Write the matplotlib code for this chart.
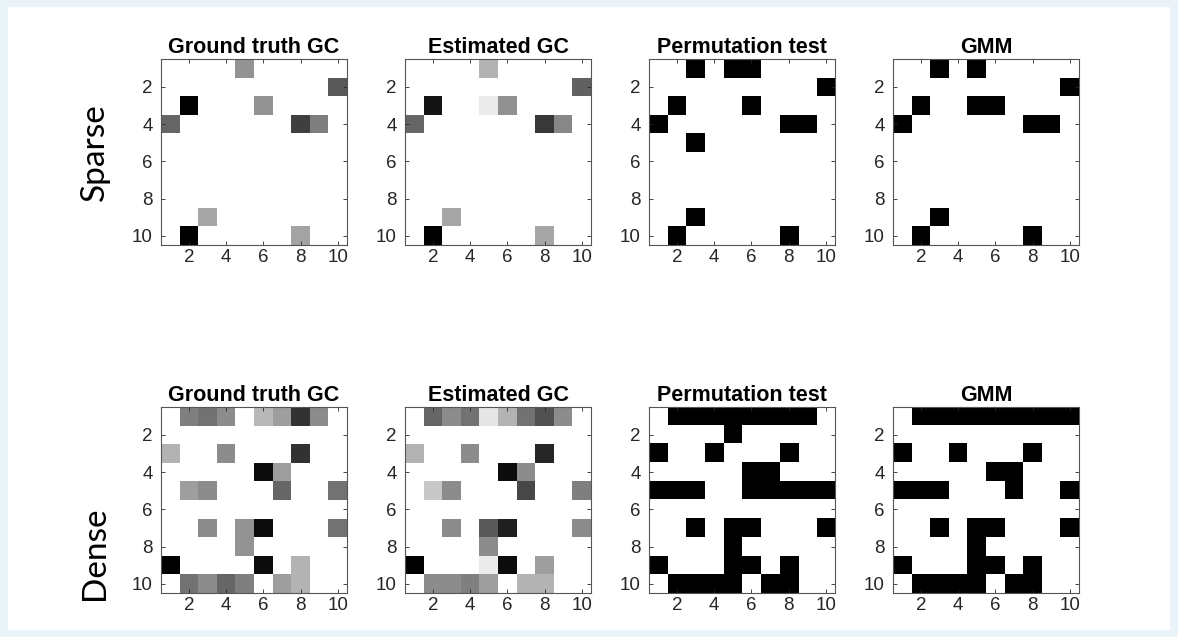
import numpy as np
import matplotlib.pyplot as plt
from matplotlib.patches import Rectangle

titles = ["Ground truth GC", "Estimated GC", "Permutation test", "GMM"]
row_labels = ["Sparse", "Dense"]
ticks = [2, 4, 6, 8, 10]

# values are darkness (0 = white, 1 = black)
sparse_truth = [
    [0, 0, 0, 0, .42, 0, 0, 0, 0, 0],
    [0, 0, 0, 0, 0, 0, 0, 0, 0, .65],
    [0, 1, 0, 0, 0, .42, 0, 0, 0, 0],
    [.6, 0, 0, 0, 0, 0, 0, .75, .5, 0],
    [0, 0, 0, 0, 0, 0, 0, 0, 0, 0],
    [0, 0, 0, 0, 0, 0, 0, 0, 0, 0],
    [0, 0, 0, 0, 0, 0, 0, 0, 0, 0],
    [0, 0, 0, 0, 0, 0, 0, 0, 0, 0],
    [0, 0, .35, 0, 0, 0, 0, 0, 0, 0],
    [0, 1, 0, 0, 0, 0, 0, .36, 0, 0],
]
sparse_est = [
    [0, 0, 0, 0, .3, 0, 0, 0, 0, 0],
    [0, 0, 0, 0, 0, 0, 0, 0, 0, .62],
    [0, .92, 0, 0, .08, .43, 0, 0, 0, 0],
    [.6, 0, 0, 0, 0, 0, 0, .78, .47, 0],
    [0, 0, 0, 0, 0, 0, 0, 0, 0, 0],
    [0, 0, 0, 0, 0, 0, 0, 0, 0, 0],
    [0, 0, 0, 0, 0, 0, 0, 0, 0, 0],
    [0, 0, 0, 0, 0, 0, 0, 0, 0, 0],
    [0, 0, .35, 0, 0, 0, 0, 0, 0, 0],
    [0, 1, 0, 0, 0, 0, 0, .35, 0, 0],
]
sparse_perm = [
    [0, 0, 1, 0, 1, 1, 0, 0, 0, 0],
    [0, 0, 0, 0, 0, 0, 0, 0, 0, 1],
    [0, 1, 0, 0, 0, 1, 0, 0, 0, 0],
    [1, 0, 0, 0, 0, 0, 0, 1, 1, 0],
    [0, 0, 1, 0, 0, 0, 0, 0, 0, 0],
    [0, 0, 0, 0, 0, 0, 0, 0, 0, 0],
    [0, 0, 0, 0, 0, 0, 0, 0, 0, 0],
    [0, 0, 0, 0, 0, 0, 0, 0, 0, 0],
    [0, 0, 1, 0, 0, 0, 0, 0, 0, 0],
    [0, 1, 0, 0, 0, 0, 0, 1, 0, 0],
]
sparse_gmm = [
    [0, 0, 1, 0, 1, 0, 0, 0, 0, 0],
    [0, 0, 0, 0, 0, 0, 0, 0, 0, 1],
    [0, 1, 0, 0, 1, 1, 0, 0, 0, 0],
    [1, 0, 0, 0, 0, 0, 0, 1, 1, 0],
    [0, 0, 0, 0, 0, 0, 0, 0, 0, 0],
    [0, 0, 0, 0, 0, 0, 0, 0, 0, 0],
    [0, 0, 0, 0, 0, 0, 0, 0, 0, 0],
    [0, 0, 0, 0, 0, 0, 0, 0, 0, 0],
    [0, 0, 1, 0, 0, 0, 0, 0, 0, 0],
    [0, 1, 0, 0, 0, 0, 0, 1, 0, 0],
]
dense_truth = [
    [0, .5, .55, .45, 0, .28, .38, .8, .45, 0],
    [0, 0, 0, 0, 0, 0, 0, 0, 0, 0],
    [.3, 0, 0, .45, 0, 0, 0, .8, 0, 0],
    [0, 0, 0, 0, 0, .95, .38, 0, 0, 0],
    [0, .38, .45, 0, 0, 0, .6, 0, 0, .55],
    [0, 0, 0, 0, 0, 0, 0, 0, 0, 0],
    [0, 0, .45, 0, .42, .95, 0, 0, 0, .55],
    [0, 0, 0, 0, .42, 0, 0, 0, 0, 0],
    [1, 0, 0, 0, 0, .95, 0, .3, 0, 0],
    [0, .55, .45, .6, .5, 0, .38, .3, 0, 0],
]
dense_est = [
    [0, .6, .45, .55, .1, .3, .55, .68, .45, 0],
    [0, 0, 0, 0, 0, 0, 0, 0, 0, 0],
    [.3, 0, 0, .45, 0, 0, 0, .85, 0, 0],
    [0, 0, 0, 0, 0, .95, .45, 0, 0, 0],
    [0, .22, .45, 0, 0, 0, .72, 0, 0, .5],
    [0, 0, 0, 0, 0, 0, 0, 0, 0, 0],
    [0, 0, .45, 0, .65, .88, 0, 0, 0, .45],
    [0, 0, 0, 0, .45, 0, 0, 0, 0, 0],
    [1, 0, 0, 0, .08, .95, 0, .38, 0, 0],
    [0, .45, .45, .5, .38, 0, .3, .3, 0, 0],
]
dense_perm = [
    [0, 1, 1, 1, 1, 1, 1, 1, 1, 0],
    [0, 0, 0, 0, 1, 0, 0, 0, 0, 0],
    [1, 0, 0, 1, 0, 0, 0, 1, 0, 0],
    [0, 0, 0, 0, 0, 1, 1, 0, 0, 0],
    [1, 1, 1, 0, 0, 1, 1, 1, 1, 1],
    [0, 0, 0, 0, 0, 0, 0, 0, 0, 0],
    [0, 0, 1, 0, 1, 1, 0, 0, 0, 1],
    [0, 0, 0, 0, 1, 0, 0, 0, 0, 0],
    [1, 0, 0, 0, 1, 1, 0, 1, 0, 0],
    [0, 1, 1, 1, 1, 0, 1, 1, 0, 0],
]
dense_gmm = [
    [0, 1, 1, 1, 1, 1, 1, 1, 1, 1],
    [0, 0, 0, 0, 0, 0, 0, 0, 0, 0],
    [1, 0, 0, 1, 0, 0, 0, 1, 0, 0],
    [0, 0, 0, 0, 0, 1, 1, 0, 0, 0],
    [1, 1, 1, 0, 0, 0, 1, 0, 0, 1],
    [0, 0, 0, 0, 0, 0, 0, 0, 0, 0],
    [0, 0, 1, 0, 1, 1, 0, 0, 0, 1],
    [0, 0, 0, 0, 1, 0, 0, 0, 0, 0],
    [1, 0, 0, 0, 1, 1, 0, 1, 0, 0],
    [0, 1, 1, 1, 1, 0, 1, 1, 0, 0],
]

grid = [
    [sparse_truth, sparse_est, sparse_perm, sparse_gmm],
    [dense_truth, dense_est, dense_perm, dense_gmm],
]

W, H = 1178, 637
fig = plt.figure(figsize=(W / 100, H / 100), dpi=100, facecolor="#eaf3f7")
fig.patches.append(Rectangle((8 / W, 7 / H), 1 - 16 / W, 1 - 14 / H,
                             transform=fig.transFigure, facecolor="white",
                             edgecolor="none", zorder=-10))

lefts = [161, 405, 649, 893]
tops = [59, 407]
size = 186

for r, row in enumerate(grid):
    for c, mat in enumerate(row):
        ax = fig.add_axes([lefts[c] / W, 1 - (tops[r] + size) / H, size / W, size / H])
        ax.set_zorder(1)
        ax.imshow(np.array(mat), cmap="gray_r", vmin=0, vmax=1,
                  extent=(0.5, 10.5, 10.5, 0.5), interpolation="nearest")
        ax.set_xticks(ticks)
        ax.set_yticks(ticks)
        ax.tick_params(direction="in", length=3, width=0.6, top=True, right=True,
                       labelsize=13.5, labelcolor="#262626", color="#262626")
        ax.tick_params(axis="x", pad=3)
        ax.tick_params(axis="y", pad=6)
        for s in ax.spines.values():
            s.set_color("#555555")
            s.set_linewidth(0.8)
        ax.set_title(titles[c], fontsize=15.5, fontweight="bold",
                     family="Liberation Sans", pad=4)
        for lab in ax.get_xticklabels() + ax.get_yticklabels():
            lab.set_family("Liberation Sans")

fig.text(95 / W, 1 - 152 / H, row_labels[0], rotation=90, ha="center", va="center",
         fontsize=24, family="Lato")
fig.text(95 / W, 1 - 553 / H, row_labels[1], rotation=90, ha="center", va="center",
         fontsize=24, family="Lato")

fig.savefig("out.png", dpi=100, facecolor=fig.get_facecolor())
